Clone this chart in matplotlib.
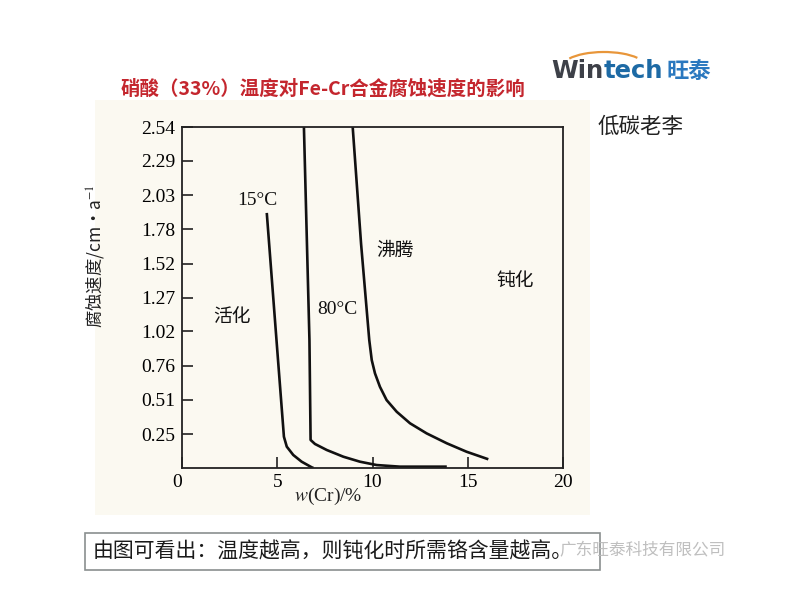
import matplotlib
matplotlib.use("Agg")
import matplotlib.pyplot as plt
from matplotlib.patches import Rectangle, Arc

plt.rcParams["mathtext.fontset"] = "stix"

# ---- data ----
x_15 = [4.45, 4.96, 5.35, 5.50, 5.84, 6.28, 6.81, 6.9]
y_15 = [1.90, 0.953, 0.233, 0.159, 0.097, 0.047, 0.005, 0.0]

x_80 = [6.40, 6.69, 6.75, 6.98, 7.60, 8.47, 9.34, 10.22, 11.44, 13.9]
y_80 = [2.54, 0.953, 0.209, 0.179, 0.134, 0.084, 0.047, 0.022, 0.01, 0.01]

x_boil = [8.96, 9.40, 9.83, 9.96, 10.13, 10.39, 10.74, 11.27, 11.97, 12.84, 13.9, 14.94, 16.08]
y_boil = [2.54, 1.67, 0.953, 0.804, 0.705, 0.605, 0.506, 0.419, 0.333, 0.258, 0.184, 0.121, 0.065]

y_ticks = [0.25, 0.51, 0.76, 1.02, 1.27, 1.52, 1.78, 2.03, 2.29, 2.54]
y_tick_labels = ["0.25", "0.51", "0.76", "1.02", "1.27", "1.52", "1.78", "2.03", "2.29", "2.54"]
x_ticks = [0, 5, 10, 15, 20]
x_tick_labels = ["0", "5", "10", "15", "20"]

title = "硝酸（33%）温度对Fe-Cr合金腐蚀速度的影响"
ylabel = "腐蚀速度/cm•a$^{-1}$"
note = "由图可看出：温度越高，则钝化时所需铬含量越高。"
watermark = "广东旺泰科技有限公司"

CJK = ["Noto Sans CJK SC", "DejaVu Sans"]
SERIF = ["Liberation Serif", "DejaVu Serif"]

W, H = 800, 600
fig = plt.figure(figsize=(8, 6), dpi=100)
fig.patch.set_facecolor("white")

def fx(px):
    return px / W

def fy(py):
    return 1 - py / H

# scanned-page beige background
fig.patches.append(Rectangle((fx(95), fy(515)), fx(590) - fx(95), fy(100) - fy(515),
                             transform=fig.transFigure, facecolor="#fbf9f1",
                             edgecolor="none", zorder=-5))

ax = fig.add_axes([fx(182), fy(468), fx(563) - fx(182), fy(127) - fy(468)])
ax.set_facecolor("none")
ax.set_zorder(2)

lw = 1.9
for xs, ys in ((x_15, y_15), (x_80, y_80), (x_boil, y_boil)):
    ax.plot(xs, ys, color="#111111", lw=lw, solid_capstyle="butt", solid_joinstyle="round")

ax.set_xlim(0, 20)
ax.set_ylim(0, 2.54)
ax.set_yticks(y_ticks)
ax.set_yticklabels(y_tick_labels, fontfamily=SERIF, fontsize=14)
ax.set_xticks(x_ticks)
ax.set_xticklabels(x_tick_labels, fontfamily=SERIF, fontsize=14)
ax.xaxis.get_ticklabels()[0].set_horizontalalignment("right")
ax.tick_params(axis="both", direction="in", length=8, width=1.2, color="#222222")
ax.tick_params(axis="y", pad=5)
ax.tick_params(axis="x", pad=4)
for s in ax.spines.values():
    s.set_linewidth(1.3)
    s.set_color("#222222")

ax.set_ylabel(ylabel, fontfamily=CJK, fontsize=12.5, color="#222222")
ax.yaxis.set_label_coords((106 - 182) / 381, (468 - 256) / 341)

ax.text((328 - 182) / 381, (468 - 496) / 341, "$w$(Cr)/%", transform=ax.transAxes,
        ha="center", va="center", fontfamily=SERIF, fontsize=14, color="#222222")

# region / curve labels
ax.text(3.96, 1.99, "15°C", fontfamily=SERIF, fontsize=14, ha="center", va="center", color="#111111")
ax.text(8.16, 1.18, "80°C", fontfamily=SERIF, fontsize=14, ha="center", va="center", color="#111111")
ax.text(2.61, 1.13, "活化", fontfamily=CJK, fontsize=13.5, ha="center", va="center", color="#111111")
ax.text(11.18, 1.62, "沸腾", fontfamily=CJK, fontsize=13.5, ha="center", va="center", color="#111111")
ax.text(17.48, 1.40, "钝化", fontfamily=CJK, fontsize=13.5, ha="center", va="center", color="#111111")

# title
fig.text(fx(323), fy(89), title, fontfamily=CJK, fontsize=14, fontweight="bold",
         color="#c4262e", ha="center", va="center")

# logo (pieces placed one after another using measured extents)
renderer = fig.canvas.get_renderer()
t_win = fig.text(fx(551), fy(71), "Win", fontfamily=["DejaVu Sans"], fontsize=17.5,
                 fontweight="bold", color="#3d4048", ha="left", va="center")
bb = t_win.get_window_extent(renderer)
t_tech = fig.text(bb.x1 / W + fx(0.5), fy(71), "tech", fontfamily=["DejaVu Sans"], fontsize=17.5,
                  fontweight="bold", color="#1d6aa5", ha="left", va="center")
bb2 = t_tech.get_window_extent(renderer)
fig.text(bb2.x1 / W + fx(3), fy(71), "旺泰", fontfamily=CJK, fontsize=16, fontweight="bold",
         color="#2a78bf", ha="left", va="center")
fig.patches.append(Arc((fx(604), fy(67)), fx(84), fy(0) - fy(30), theta1=20, theta2=162,
                       transform=fig.transFigure, color="#e8963a", lw=1.6))

fig.text(fx(641), fy(127), "低碳老李", fontfamily=CJK, fontsize=15.5, color="#222222",
         ha="center", va="center")

# bottom note box
fig.patches.append(Rectangle((fx(85), fy(570)), fx(600) - fx(85), fy(533) - fy(570),
                             transform=fig.transFigure, facecolor="white",
                             edgecolor="#8a8f8f", lw=1.2, zorder=1))
fig.text(fx(93), fy(552), note, fontfamily=CJK, fontsize=15, color="#1a1a1a",
         ha="left", va="center", zorder=2)
fig.text(fx(726), fy(551), watermark, fontfamily=CJK, fontsize=12, color="#b8b8b8",
         ha="right", va="center", zorder=3, alpha=0.9)

fig.savefig("out.png", dpi=100)
